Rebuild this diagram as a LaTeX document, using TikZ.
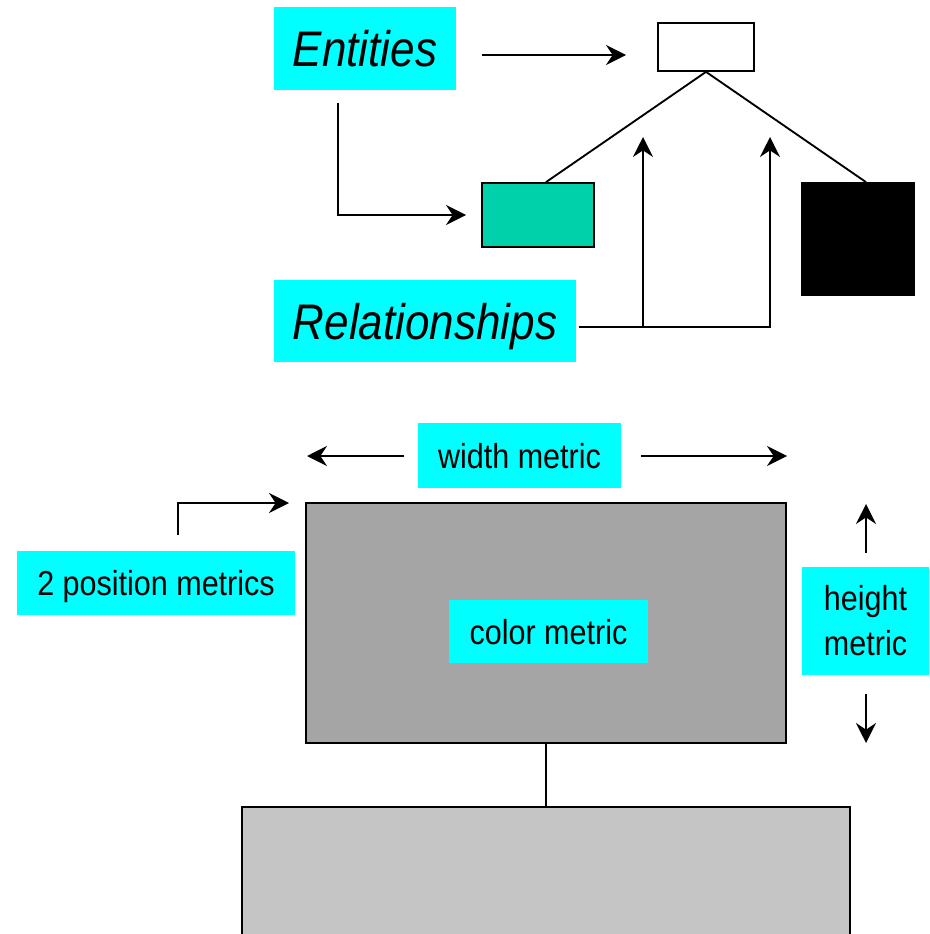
\documentclass[tikz,border=0pt]{standalone}
\usepackage{fontspec}
\usetikzlibrary{arrows.meta}
\newfontfamily\lblfont[FakeStretch=0.88]{Liberation Sans}
\definecolor{labelcyan}{RGB}{0,255,255}
\definecolor{tealbox}{RGB}{0,209,170}
\definecolor{graybox}{RGB}{165,165,165}
\definecolor{lightbox}{RGB}{197,197,197}
\begin{document}
\begin{tikzpicture}[x=0.75pt,y=-0.75pt,
  lbl/.style={fill=labelcyan,inner sep=0pt,font=\lblfont\fontsize{26pt}{33.75pt}\selectfont,text depth=0pt},
  biglbl/.style={fill=labelcyan,inner sep=0pt,font=\lblfont\itshape\fontsize{37.5pt}{45pt}\selectfont,text depth=0pt},
  shapebox/.style={draw=black,line width=1.3pt,inner sep=0pt},
  conn/.style={line width=1.4pt},
  arr/.style={conn,-{Stealth[length=15pt,width=15pt,inset=5pt]}}
]
\useasboundingbox (0,0) rectangle (929,934);
\clip (0,0) rectangle (929,934);

% top part
\node[biglbl,minimum width={182*0.75pt},minimum height={83*0.75pt}] (ent) at (365,48.5) {Entities};
\node[biglbl,minimum width={302*0.75pt},minimum height={82*0.75pt}] (rel) at (425,321) {Relationships};
\node[shapebox,fill=white,minimum width={96*0.75pt},minimum height={48*0.75pt}] (wbox) at (706,47) {};
\node[shapebox,fill=tealbox,minimum width={112*0.75pt},minimum height={64*0.75pt}] (teal) at (538,215) {};
\node[shapebox,fill=black,minimum width={112*0.75pt},minimum height={112*0.75pt}] (blk) at (858,239) {};

\coordinate (e1s) at (482,55);
\coordinate (e1e) at (626,55);
\draw[arr] (e1s) -- (e1e);
\coordinate (e2s) at (338,103);
\coordinate (e2e) at (466,215);
\draw[arr] (e2s) |- (e2e);

\draw[conn] (wbox.south) -- ([xshift=6pt]teal.north);
\draw[conn] (wbox.south) -- ([xshift=6pt]blk.north);

\coordinate (r0) at (579,327);
\coordinate (r1) at (643,327);
\coordinate (r1e) at (643,137);
\coordinate (r2e) at (770,137);
\draw[conn] (r0) -- (r1);
\draw[arr] (r1) -- (r1e);
\draw[arr] (r1) -| (r2e);

% bottom part
\node[shapebox,fill=graybox,minimum width={480*0.75pt},minimum height={240*0.75pt}] (gray) at (546,623) {};
\node[shapebox,fill=lightbox,minimum width={608*0.75pt},minimum height={146*0.75pt}] (low) at (546,880) {};
\draw[conn] (gray.south) -- (low.north);

\node[lbl,minimum width={203*0.75pt},minimum height={65*0.75pt}] (wm) at (519.5,455.5) {width metric};
\node[lbl,minimum width={199*0.75pt},minimum height={63*0.75pt}] (cm) at (548.5,631.5) {color metric};
\node[lbl,minimum width={278*0.75pt},minimum height={64*0.75pt}] (pm) at (156,583) {2 position metrics};
\node[fill=labelcyan,inner sep=0pt,font=\lblfont\fontsize{26pt}{33.75pt}\selectfont,align=center,minimum width={127*0.75pt},minimum height={108*0.75pt}] (hm) at (865.5,621) {height\\metric};

\coordinate (w1s) at (404,456);
\coordinate (w1e) at (307,456);
\coordinate (w2s) at (641,456);
\coordinate (w2e) at (787,456);
\draw[arr] (w1s) -- (w1e);
\draw[arr] (w2s) -- (w2e);

\coordinate (p1s) at (178,535);
\coordinate (p1e) at (289,503);
\draw[arr] (p1s) |- (p1e);

\coordinate (h1s) at (866,553);
\coordinate (h1e) at (866,504);
\coordinate (h2s) at (866,694);
\coordinate (h2e) at (866,743);
\draw[arr] (h1s) -- (h1e);
\draw[arr] (h2s) -- (h2e);
\end{tikzpicture}
\end{document}
